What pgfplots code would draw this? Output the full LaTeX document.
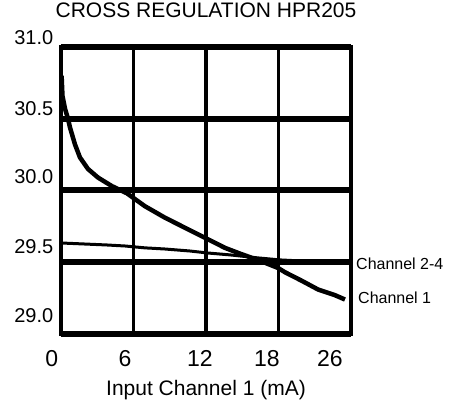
\documentclass[border=0pt]{standalone}
\usepackage{fontspec}
\setmainfont{Liberation Sans}
\usepackage{pgfplots}
\pgfplotsset{compat=1.18}
\begin{document}
\begin{tikzpicture}
\begin{axis}[
  scale only axis, width=290bp, height=287bp,
  xmin=0, xmax=24, ymin=29, ymax=31,
  xtick={0,6,12,18,24},
  xticklabels={\makebox[0pt]{\hspace{-18.6bp}0},\makebox[0pt]{\hspace{-17bp}6},\makebox[0pt]{\hspace{-12bp}12},\makebox[0pt]{\hspace{-23bp}18},\makebox[0pt]{\hspace{-42bp}26}},
  ytick={29,29.5,30,30.5,31},
  yticklabels={\raisebox{36bp}{29.0},\raisebox{32bp}{29.5},\raisebox{27bp}{30.0},\raisebox{20bp}{30.5},\raisebox{18bp}{31.0}},
  major tick length=0pt,
  xmajorgrids, ymajorgrids,
  major x grid style={black, line width=3.5bp},
  major y grid style={black, line width=6bp},
  axis line style={black, line width=3.5bp},
  xticklabel style={font=\fontsize{23bp}{27bp}\selectfont, inner sep=0pt, anchor=north, yshift=-16bp},
  yticklabel style={font=\fontsize{20bp}{24bp}\selectfont, inner sep=0pt, anchor=east, xshift=-7.5bp},
  title={CROSS REGULATION HPR205},
  title style={font=\fontsize{21bp}{25bp}\selectfont, at={(axis description cs:0.5,1)}, anchor=base, yshift=23bp},
  xlabel={Input Channel 1 (mA)},
  xlabel style={font=\fontsize{21bp}{25bp}\selectfont, at={(axis description cs:0.5,0)}, anchor=base, yshift=-62bp},
]
\addplot[black, line width=4.5bp, line join=round] coordinates {
(0.05,30.80) (0.12,30.66) (0.33,30.57) (0.58,30.50) (0.74,30.44) (1.16,30.32)
(1.57,30.23) (2.23,30.15) (3.06,30.09) (4.22,30.03) (5.46,29.98) (6.95,29.89)
(8.61,29.81) (10.26,29.74) (11.92,29.67) (13.57,29.60) (14.81,29.56) (16.47,29.51)
(17.96,29.46) (18.54,29.43) (19.94,29.37) (21.27,29.31) (22.68,29.27) (23.50,29.24)
};
\addplot[black, line width=3bp] coordinates {
(0,29.634) (3.81,29.62) (5.30,29.613) (6.95,29.60) (8.61,29.592) (10.68,29.578)
(12.17,29.564) (13.99,29.551) (16.30,29.53) (18.12,29.516) (19.78,29.509) (22.68,29.502)
};
\end{axis}
\node[anchor=west, inner sep=0pt, font=\fontsize{16bp}{19bp}\selectfont] at ([xshift=5bp, yshift=70bp]current axis.south east) {Channel 2-4};
\node[anchor=west, inner sep=0pt, font=\fontsize{16bp}{19bp}\selectfont] at ([xshift=7bp, yshift=36bp]current axis.south east) {Channel 1};
\path ([xshift=-61bp, yshift=-76bp]current axis.south west) rectangle ++(456bp,409bp);
\end{tikzpicture}
\end{document}
